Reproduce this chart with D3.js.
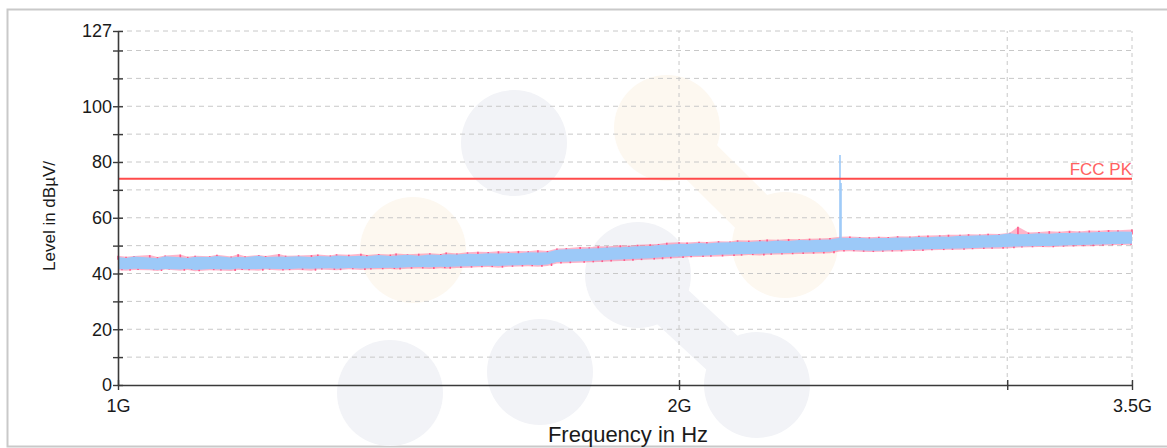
<!DOCTYPE html>
<html>
<head>
<meta charset="utf-8">
<script src="https://cdn.jsdelivr.net/npm/d3@7"></script>
<style>
  body { margin: 0; background: #fff; }
  text { font-family: "Liberation Sans", Arial, sans-serif; }
</style>
</head>
<body>
<svg id="chart"></svg>
<script>
// frequencies in GHz (roughly log spaced)
var freqs = [1.00,1.01,1.02,1.04,1.05,1.06,1.08,1.09,1.10,1.12,
  1.13,1.15,1.16,1.17,1.19,1.20,1.22,1.23,1.25,1.27,
  1.28,1.30,1.31,1.33,1.35,1.36,1.38,1.40,1.41,1.43,
  1.45,1.47,1.49,1.50,1.52,1.54,1.56,1.58,1.60,1.62,
  1.64,1.66,1.68,1.70,1.72,1.74,1.77,1.79,1.81,1.83,
  1.86,1.88,1.90,1.93,1.95,1.97,2.00,2.02,2.05,2.07,
  2.10,2.13,2.15,2.18,2.21,2.23,2.26,2.29,2.32,2.35,
  2.38,2.41,2.44,2.47,2.50,2.53,2.56,2.59,2.62,2.66,
  2.69,2.72,2.76,2.79,2.83,2.86,2.90,2.93,2.97,3.01,
  3.04,3.08,3.12,3.16,3.20,3.24,3.28,3.32,3.36,3.40,
  3.44,3.50];

// blue trace envelope (dBuV)
var blueHi = [45.9,45.6,46.1,45.7,45.5,46.2,45.8,45.6,46.0,45.9,
  46.3,45.7,46.0,45.8,46.4,45.9,46.1,46.0,46.2,45.9,
  46.3,46.1,46.5,46.2,46.4,46.2,46.6,46.3,46.5,46.7,
  46.4,46.8,46.6,46.9,46.8,47.1,47.0,47.3,47.2,47.4,
  47.3,47.6,47.5,47.6,48.5,48.7,48.8,49.0,49.1,49.3,
  49.4,49.6,49.8,49.9,50.2,50.3,50.7,50.6,50.9,50.8,
  51.1,51.2,51.4,51.3,51.6,51.5,51.8,51.7,52.0,51.9,
  52.1,52.2,52.8,52.7,52.8,52.6,52.7,52.7,52.9,52.9,
  53.1,53.0,53.3,53.2,53.5,53.5,53.7,53.7,53.9,54.4,
  54.1,54.2,54.4,54.3,54.5,54.5,54.7,54.7,54.9,54.9,
  55.1,55.0];
var blueLo = [41.6,41.4,41.7,41.5,41.3,41.6,41.4,41.7,41.3,41.6,
  41.5,41.4,41.8,41.5,41.6,41.7,41.6,41.5,41.8,41.7,
  41.8,41.9,41.7,42.0,41.8,41.9,42.0,42.1,42.0,42.2,
  42.3,42.2,42.4,42.3,42.5,42.6,42.7,42.8,42.7,42.9,
  43.0,43.1,43.0,43.2,44.1,44.2,44.4,44.5,44.7,44.8,
  45.0,45.2,45.3,45.5,45.7,45.9,46.1,46.3,46.4,46.5,
  46.7,46.8,46.9,47.0,47.1,47.2,47.3,47.4,47.5,47.6,
  47.7,47.8,48.4,48.4,48.3,48.2,48.2,48.3,48.4,48.5,
  48.6,48.7,48.8,48.9,49.0,49.1,49.2,49.3,49.4,49.6,
  49.7,49.8,49.9,49.9,50.0,50.1,50.2,50.3,50.4,50.5,
  50.6,50.7];

// pink trace envelope (dBuV)
var pinkHi = [46.4,46.0,46.3,46.6,45.9,46.5,46.8,46.0,46.4,46.2,
  46.7,46.1,46.9,46.2,46.6,46.3,47.0,46.4,46.5,46.6,
  46.8,46.5,46.9,46.7,47.1,46.6,47.0,46.8,47.2,46.9,
  47.1,47.3,47.0,47.5,47.2,47.6,47.8,47.7,48.0,47.8,
  48.1,48.0,48.3,48.1,49.0,49.1,49.5,49.4,49.8,49.7,
  50.1,50.0,50.3,50.5,50.6,51.0,51.2,51.1,51.4,51.3,
  51.6,51.5,51.9,51.8,52.0,52.2,52.1,52.4,52.3,52.5,
  52.6,52.7,53.2,53.3,53.1,53.0,53.2,53.1,53.4,53.3,
  53.5,53.6,53.7,53.9,53.9,54.1,54.0,54.3,54.2,54.6,
  56.8,54.7,54.9,55.2,55.0,55.3,55.1,55.4,55.3,55.6,
  55.5,55.8];
var pinkLo = [41.2,41.0,41.3,41.2,40.9,41.4,41.0,41.3,40.8,41.2,
  41.1,40.9,41.3,41.2,41.0,41.4,41.1,41.2,41.3,41.0,
  41.4,41.3,41.2,41.5,41.3,41.4,41.5,41.6,41.4,41.7,
  41.8,41.6,41.9,41.7,42.0,42.1,42.2,42.3,42.1,42.4,
  42.5,42.6,42.4,42.7,43.6,43.7,43.9,44.0,44.1,44.3,
  44.5,44.6,44.8,45.0,45.1,45.4,45.6,45.8,45.9,46.0,
  46.1,46.3,46.4,46.6,46.5,46.7,46.8,46.9,47.0,47.1,
  47.2,47.3,47.9,48.0,47.8,47.7,47.8,47.9,47.9,48.1,
  48.1,48.3,48.4,48.5,48.5,48.7,48.8,48.9,48.9,49.1,
  49.3,49.4,49.5,49.4,49.6,49.7,49.8,49.8,50.0,50.1,
  50.2,50.3];

// narrow carrier spike
var spikeFreqs = [2.44, 2.443];
var spikeLevels = [82.5, 72.5];

var limitLevel = 74;
var limitName = "FCC PK";

var yTicks = [0,10,20,30,40,50,60,70,80,90,100,110,120,127];
var yLabels = [0,20,40,60,80,100,127];
var xTicks = [1,2,3,3.5];
var xLabels = {1: "1G", 2: "2G", 3: "", 3.5: "3.5G"};
var xGrid = [2,3,3.5];

var width = 1167,
    height = 448;

var blue = "#9cc9f8",
    pink = "#ff5a8a";

var svg = d3.select("#chart")
    .attr("width", width)
    .attr("height", height);

var x = d3.scaleLog().domain([1, 3.5]).range([118, 1132]);
var y = d3.scaleLinear().domain([0, 127]).range([385, 31]);

// outer frame
svg.append("rect")
    .attr("x", 7.5).attr("y", 9.5)
    .attr("width", width).attr("height", 437)
    .attr("fill", "none")
    .attr("stroke", "#c9c9c9")
    .attr("stroke-width", 2);

// faint logo watermark behind the plot
var wm = svg.append("g").attr("class", "watermark");
var wmGray = "#f2f3f7", wmOrange = "#fdf8f0";
wm.append("line").attr("x1", 667).attr("y1", 128).attr("x2", 785).attr("y2", 245)
    .attr("stroke", wmOrange).attr("stroke-width", 46);
wm.append("line").attr("x1", 638).attr("y1", 275).attr("x2", 757).attr("y2", 385)
    .attr("stroke", wmGray).attr("stroke-width", 46);
[[514,143,wmGray],[667,128,wmOrange],[785,245,wmOrange],[413,250,wmOrange],
 [638,275,wmGray],[757,385,wmGray],[540,372,wmGray],[390,393,wmGray]].forEach(function (c) {
  wm.append("circle").attr("cx", c[0]).attr("cy", c[1]).attr("r", 53).attr("fill", c[2]);
});

// grid
svg.append("g").selectAll("line")
    .data(yTicks.filter(function (d) { return d > 0; }))
    .enter().append("line")
    .attr("x1", x(1)).attr("x2", x(3.5))
    .attr("y1", function (d) { return y(d); })
    .attr("y2", function (d) { return y(d); })
    .attr("stroke", "#c8c8c8")
    .attr("stroke-dasharray", "5,4");

svg.append("g").selectAll("line")
    .data(xGrid)
    .enter().append("line")
    .attr("x1", function (d) { return x(d); })
    .attr("x2", function (d) { return x(d); })
    .attr("y1", y(0)).attr("y2", y(127))
    .attr("stroke", "#c8c8c8")
    .attr("stroke-dasharray", "4,4");

// traces
var idx = d3.range(freqs.length);
var traces = svg.append("g");

var pinkArea = d3.area()
    .x(function (i) { return x(freqs[i]); })
    .y0(function (i) { return y(pinkLo[i]); })
    .y1(function (i) { return y(pinkHi[i]); });
var blueArea = d3.area()
    .x(function (i) { return x(freqs[i]); })
    .y0(function (i) { return y(blueLo[i]); })
    .y1(function (i) { return y(blueHi[i]); });

traces.append("path").datum(idx).attr("d", pinkArea)
    .attr("fill", pink).attr("fill-opacity", 0.45);

// pink peaks poke out of the blue band as thin ticks
traces.selectAll("line.ph")
    .data(idx)
    .enter().append("line")
    .attr("class", "ph")
    .attr("x1", function (i) { return x(freqs[i]); })
    .attr("x2", function (i) { return x(freqs[i]); })
    .attr("y1", function (i) { return y(blueHi[i] - 1); })
    .attr("y2", function (i) { return y(pinkHi[i]); })
    .attr("stroke", pink)
    .attr("stroke-width", 1.6);

traces.selectAll("line.pl")
    .data(idx)
    .enter().append("line")
    .attr("class", "pl")
    .attr("x1", function (i) { return Math.min(x(freqs[i]) + 4, x(3.5) - 1); })
    .attr("x2", function (i) { return Math.min(x(freqs[i]) + 4, x(3.5) - 1); })
    .attr("y1", function (i) { return y(blueLo[i] + 1); })
    .attr("y2", function (i) { return y(pinkLo[i]); })
    .attr("stroke", pink)
    .attr("stroke-width", 1.6);

traces.append("path").datum(idx).attr("d", blueArea).attr("fill", blue);

traces.selectAll("line.spike")
    .data(spikeFreqs)
    .enter().append("line")
    .attr("class", "spike")
    .attr("x1", function (d) { return x(d); })
    .attr("x2", function (d) { return x(d); })
    .attr("y1", y(blueHi[72] - 1))
    .attr("y2", function (d, i) { return y(spikeLevels[i]); })
    .attr("stroke", blue)
    .attr("stroke-width", 1.6);

// limit line
svg.append("line")
    .attr("x1", x(1)).attr("x2", x(3.5))
    .attr("y1", y(limitLevel)).attr("y2", y(limitLevel))
    .attr("stroke", "#ff4b4b")
    .attr("stroke-width", 2);

svg.append("text")
    .attr("x", x(3.5)).attr("y", y(limitLevel) - 4)
    .attr("text-anchor", "end")
    .attr("fill", "#ff6161")
    .style("font-size", "17px")
    .text(limitName);

// axes
var yAxis = svg.append("g")
    .attr("transform", "translate(" + x(1) + ",0)")
    .call(d3.axisLeft(y)
        .tickValues(yTicks)
        .tickSize(5)
        .tickSizeOuter(0)
        .tickPadding(1)
        .tickFormat(function (d) { return yLabels.indexOf(d) >= 0 ? d : ""; }));

var xAxis = svg.append("g")
    .attr("transform", "translate(0," + y(0) + ")")
    .call(d3.axisBottom(x)
        .tickValues(xTicks)
        .tickSize(5)
        .tickSizeOuter(0)
        .tickPadding(9)
        .tickFormat(function (d) { return xLabels[d]; }));

yAxis.selectAll(".tick line").attr("x1", 5);
xAxis.selectAll(".tick line").attr("y1", -5);
[yAxis, xAxis].forEach(function (a) {
  a.select(".domain").attr("stroke", "#3a3a3a").attr("stroke-width", 1.6);
  a.selectAll(".tick line").attr("stroke", "#3a3a3a").attr("stroke-width", 1.4);
  a.selectAll(".tick text")
      .attr("fill", "#1a1a1a")
      .style("font-family", "'Liberation Sans', Arial, sans-serif")
      .style("font-size", "18px");
});

// axis titles
svg.append("text")
    .attr("transform", "translate(55,216) rotate(-90)")
    .attr("text-anchor", "middle")
    .attr("fill", "#1a1a1a")
    .style("font-size", "17px")
    .text("Level in dBµV/");

svg.append("text")
    .attr("x", 628).attr("y", 442)
    .attr("text-anchor", "middle")
    .attr("fill", "#1a1a1a")
    .style("font-size", "22px")
    .text("Frequency in Hz");
</script>
</body>
</html>
